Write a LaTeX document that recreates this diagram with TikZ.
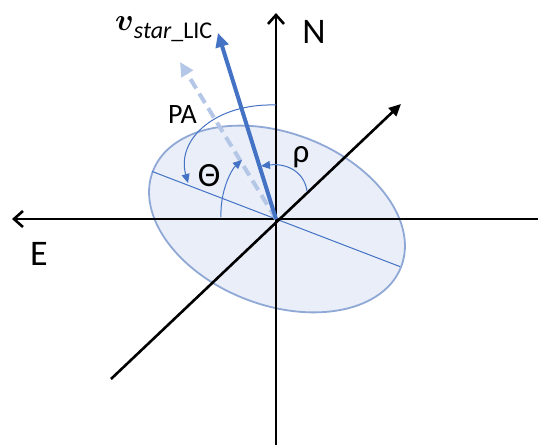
\documentclass[tikz,border=0pt]{standalone}
\usepackage{amsmath,bm,graphicx}
\usepackage{fontspec}
\setmainfont{Carlito}
\usetikzlibrary{arrows.meta}
\definecolor{PAblue}{RGB}{68,114,196}
\definecolor{PAlight}{RGB}{180,199,231}
\definecolor{PAedge}{RGB}{143,168,214}
\definecolor{PAfill}{RGB}{233,238,248}
\tikzset{
  axisline/.style={line width=2.6pt,draw=black},
  axisopen/.style={axisline,-{Straight Barb[length=9pt,width=16pt,line width=2.6pt]}},
  axisfull/.style={axisline,-{Triangle[length=12pt,width=11pt]}},
  vecline/.style={line width=4pt,draw=PAblue,-{Triangle[length=14pt,width=13pt]}},
  vecdash/.style={line width=4pt,draw=PAlight,dash pattern=on 11pt off 6pt,
                  -{Triangle[length=14pt,width=13pt,sep=0pt]}},
  angarr/.style={line width=1pt,draw=PAblue,-{Triangle[length=9pt,width=8pt]}},
  ell/.style={draw=PAedge,line width=1.8pt,fill=PAfill},
  lab/.style={inner sep=0pt,font=\fontsize{36}{38}\selectfont}
}
\begin{document}
\begin{tikzpicture}[x=1pt,y=1pt]
  \useasboundingbox (-276,-226) rectangle (262,219);
  \coordinate (O) at (0,0);
  \coordinate (Etip) at (-264,0);
  \coordinate (Wend) at (262,0);
  \coordinate (Ntip) at (0,206);
  \coordinate (Send) at (0,-226);
  \coordinate (Dtip) at (125,115);
  \coordinate (Dend) at (-165,-160);
  \coordinate (Vtip) at (-58,186);
  \coordinate (Ptip) at (-96,157);
  \coordinate (maL) at (-124,47.6);
  \coordinate (maR) at (124,-47.6);
  % ellipse and its major axis
  \draw[ell] (1,0) ellipse [x radius=133pt,y radius=86pt,rotate=-21];
  \draw[line width=1pt,draw=PAblue] (maL) -- (maR);
  % axes
  \draw[axisopen] (Wend) -- (Etip);
  \draw[axisopen] (Send) -- (Ntip);
  \draw[axisfull] (Dend) -- (Dtip);
  % vectors
  \draw[vecdash] (O) -- (Ptip);
  \draw[vecline] (O) -- (Vtip);
  % angle arcs
  \coordinate (paS) at (0,114);
  \coordinate (paE) at (-88,36);
  \coordinate (thS) at (-55,2);
  \coordinate (thE) at (-34,59);
  \coordinate (rhS) at (31,28);
  \coordinate (rhE) at (-15,53);
  \draw[angarr] (paS) .. controls +(-60,2) and +(-12,44) .. (paE);
  \draw[angarr] (thS) .. controls +(-1,27) and +(-10,-9) .. (thE);
  \draw[angarr] (rhS) .. controls +(-3,20) and +(25,3) .. (rhE);
  % labels
  \node[lab] (nN) at (38,187.4) {N};
  \node[lab] (nE) at (-237,-34.7) {E};
  \node[lab,font=\fontsize{28}{30}\selectfont] (nPA) at (-93.5,104.7) {PA};
  \node[lab,font=\fontsize{34}{36}\selectfont] (nth) at (-66.8,43.7) {Θ};
  \node[lab,font=\fontsize{33}{35}\selectfont] (nrho) at (25,62) {ρ};
  \node[lab,anchor=base west,font=\fontsize{24}{26}\selectfont] (nv) at (-161,189)
    {\scalebox{1.25}{$\boldsymbol{v}$}\raisebox{-8pt}{\fontsize{24}{26}\selectfont\itshape star\upshape\_LIC}};
\end{tikzpicture}
\end{document}
